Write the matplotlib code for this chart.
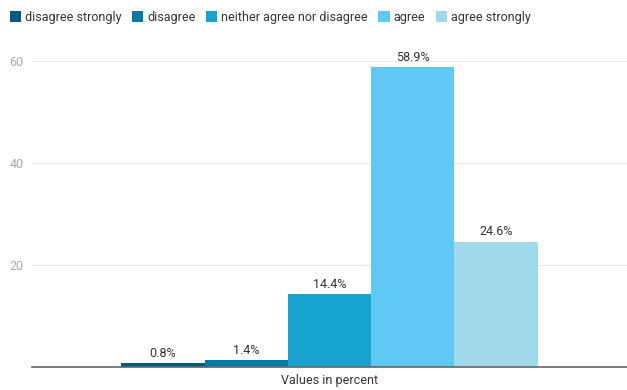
import matplotlib.pyplot as plt
import numpy as np

plt.rcParams['font.family'] = ['Roboto', 'DejaVu Sans']

categories = ["disagree strongly", "disagree", "neither agree nor disagree", "agree", "agree strongly"]
values = [0.8, 1.4, 14.4, 58.9, 24.6]
colors = ["#015a80", "#067aa6", "#17a3cf", "#5fc9f3", "#a0daea"]

fig = plt.figure(figsize=(6.27, 3.9), dpi=100)
ax = fig.add_axes([32 / 627, 23 / 390, 595 / 627, 306 / 390])

width = 0.14
x = (np.arange(len(values)) - 2) * width
for xi, v, c, lab in zip(x, values, colors, categories):
    ax.bar(xi, v, width, color=c, label=lab, zorder=3)
    ax.text(xi, v + 0.6, f"{v}%", ha='center', va='bottom', fontsize=9, color='#333333')

ax.set_xlim(-0.5, 0.5)
ax.set_ylim(0, 60)
ax.set_yticks([20, 40, 60])
ax.tick_params(axis='y', length=0, labelsize=9, labelcolor='#aaaaaa', pad=6)
ax.set_xticks([])
ax.set_xlabel("Values in percent", fontsize=9, color='#333333', labelpad=5)
ax.grid(axis='y', color='#e6e6e6', linewidth=0.8, zorder=0)
for s in ['top', 'right', 'left']:
    ax.spines[s].set_visible(False)
ax.spines['bottom'].set_color('#666666')
ax.spines['bottom'].set_linewidth(1.2)
ax.spines['bottom'].set_zorder(4)

fig.legend(loc='upper left', bbox_to_anchor=(0.002, 0.995), ncol=5, frameon=False,
           fontsize=9, handlelength=0.9, handleheight=0.9, handletextpad=0.3,
           columnspacing=0.85, labelcolor='#333333', borderaxespad=0.3)

plt.savefig("out.png", dpi=100)
